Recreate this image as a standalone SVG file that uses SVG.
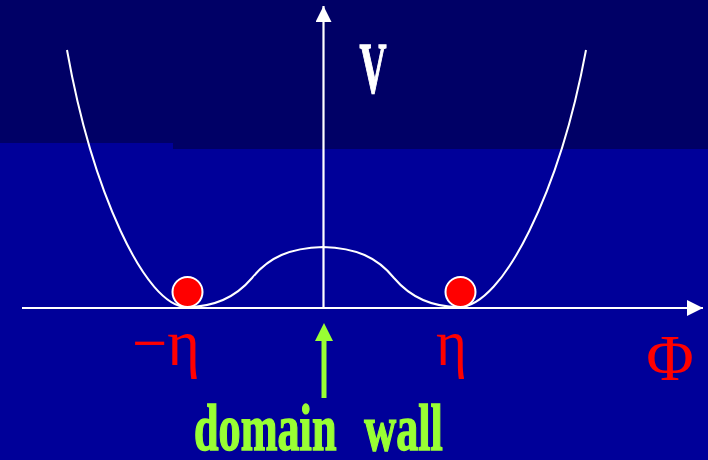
<svg xmlns="http://www.w3.org/2000/svg" width="708" height="460" viewBox="0 0 708 460">
<style>
.axis{stroke:#ffffff;stroke-width:2.2;fill:none}
.curve{stroke:#ffffff;stroke-width:2;fill:none}
.ball{fill:#ff0000;stroke:#ffffff;stroke-width:2}
.red{fill:#ff0000;font-family:"Liberation Serif","DejaVu Serif",serif}
.lbl{font-family:"Liberation Serif","DejaVu Serif",serif;font-weight:bold}
</style>
<defs>
<marker id="wa" markerUnits="userSpaceOnUse" markerWidth="18" markerHeight="18" refX="16" refY="8" orient="auto">
<path d="M0,0 L16,8 L0,16 Z" fill="#ffffff"/>
</marker>
</defs>
<rect x="0" y="0" width="708" height="460" fill="#000099"/>
<polygon points="0,0 708,0 708,149 173,149 173,143 0,143" fill="#000066"/>
<g id="connectors">
<line id="v-axis" class="axis" x1="323.5" y1="308" x2="323.5" y2="6" marker-end="url(#wa)"/>
<line id="phi-axis" class="axis" x1="22" y1="308" x2="703" y2="308" marker-end="url(#wa)"/>
<g id="wall-arrow">
<rect x="321.5" y="339" width="5" height="59" fill="#99ff33"/>
<polygon points="324,323 333,341 315,341" fill="#99ff33"/>
</g>
</g>
<g id="potential">
<path class="curve" d="M67,50 C92,190 145,307 187,307 C212,307 235,298 252,278 C269,257 290,248 323,247 C356,248 377,257 394,278 C411,298 434,307 459,307 C503,307 560,190 586,50"/>
</g>
<g id="ball-left"><circle class="ball" cx="187.5" cy="292" r="15"/></g>
<g id="ball-right"><circle class="ball" cx="460.5" cy="292" r="15"/></g>
<g id="label-V"><text class="lbl" x="373" y="92" font-size="72" fill="#ffffff" stroke="#ffffff" stroke-width="1.5" text-anchor="middle" textLength="27" lengthAdjust="spacingAndGlyphs">V</text></g>
<g id="label-neg-eta"><text class="red" x="132" y="365" font-size="66" textLength="68" lengthAdjust="spacingAndGlyphs">−η</text></g>
<g id="label-eta"><text class="red" x="436" y="365" font-size="66" textLength="31" lengthAdjust="spacingAndGlyphs">η</text></g>
<g id="label-phi"><text class="red" x="670" y="380" font-size="65" text-anchor="middle">Φ</text></g>
<g id="label-domain-wall"><text class="lbl" font-size="66" fill="#99ff33" stroke="#99ff33" stroke-width="1.5" transform="translate(194,450) scale(0.67,1)" word-spacing="25">domain wall</text></g>
</svg>
